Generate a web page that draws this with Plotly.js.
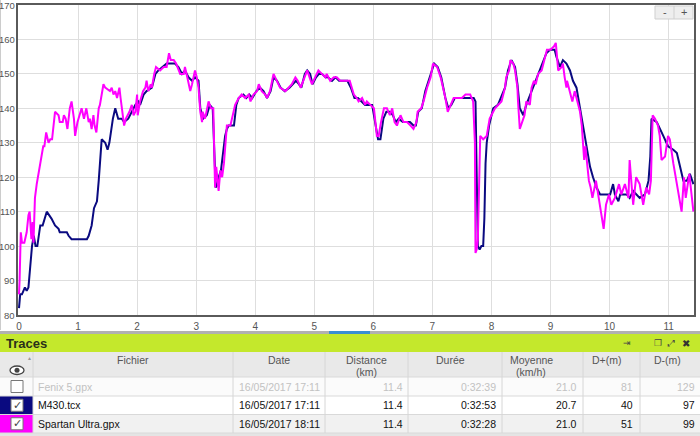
<!DOCTYPE html>
<html><head><meta charset="utf-8">
<script src="https://cdn.plot.ly/plotly-3.0.1.min.js"></script>
<style>html,body{margin:0;padding:0;background:#fff;overflow:hidden}#chart{width:700px;height:436px}</style>
</head><body><div id="chart"></div>
<script>
// ---- series: heart rate vs distance (km) ----
const m430Km = [0.00,0.01,0.02,0.05,0.10,0.13,0.16,0.19,0.22,0.25,0.28,0.31,0.36,0.40,0.47,0.55,0.61,0.67,0.69,0.81,0.84,0.89,1.15,1.18,1.20,1.23,1.27,1.32,1.35,1.37,1.40,1.46,1.50,1.53,1.59,1.63,1.68,1.74,1.78,1.85,1.91,1.97,2.02,2.05,2.11,2.16,2.25,2.31,2.36,2.50,2.64,2.70,2.76,2.81,2.87,2.93,2.98,3.04,3.07,3.12,3.18,3.23,3.28,3.31,3.33,3.36,3.38,3.42,3.45,3.49,3.52,3.55,3.64,3.68,3.72,3.80,3.85,3.90,3.95,4.02,4.08,4.14,4.20,4.26,4.31,4.37,4.43,4.50,4.58,4.64,4.69,4.74,4.78,4.84,4.88,4.93,4.97,5.03,5.08,5.13,5.19,5.23,5.30,5.36,5.42,5.50,5.56,5.62,5.68,5.74,5.80,5.86,5.92,5.98,6.04,6.08,6.12,6.17,6.22,6.28,6.33,6.38,6.43,6.50,6.56,6.62,6.68,6.72,6.76,6.82,6.88,6.94,6.99,7.03,7.09,7.15,7.22,7.27,7.32,7.38,7.45,7.52,7.58,7.65,7.70,7.73,7.75,7.77,7.80,7.83,7.86,7.88,7.90,7.92,7.96,8.03,8.11,8.23,8.28,8.34,8.40,8.44,8.48,8.54,8.59,8.68,8.73,8.82,8.93,8.99,9.07,9.10,9.16,9.21,9.27,9.33,9.38,9.44,9.50,9.55,9.61,9.67,9.72,9.78,9.84,10.01,10.06,10.09,10.15,10.18,10.29,10.34,10.40,10.51,10.60,10.66,10.69,10.71,10.80,10.85,10.91,10.99,11.08,11.14,11.19,11.25,11.31,11.36,11.42];
const m430Hr = [82,84,86,86,88,87,88,94,100,103,100,100,106,106,110,108,106,105,104,104,103,102,102,103,104,106,111,113,119,124,131,130,128,130,137,140,137,137,136,137,139,141,142,141,144,145,146,150,151,153,153,152,150,151,149,148,149,148,140,137,138,141,140,128,117,118,120,122,127,132,134,135,135,141,143,144,143,144,143,145,146,145,143,145,149,148,146,145,146,147,148,147,146,150,151,150,147,149,150,150,149,149,148,149,148,148,148,146,143,143,142,141,141,141,135,131,131,137,139,139,138,136,137,136,136,136,135,135,139,140,145,148,151,153,152,149,143,140,141,143,143,143,143,143,143,142,125,100,99,100,100,108,124,130,135,140,141,146,151,154,152,147,140,138,141,145,147,151,156,157,157,155,152,154,153,151,148,146,140,135,129,123,120,117,115,115,118,115,113,115,115,114,116,114,115,119,126,137,136,134,132,129,128,127,123,119,119,121,118];

const spartanKm = [0.00,0.01,0.03,0.05,0.09,0.13,0.16,0.18,0.21,0.23,0.245,0.27,0.30,0.34,0.37,0.41,0.43,0.46,0.50,0.53,0.56,0.61,0.67,0.69,0.74,0.76,0.79,0.82,0.86,0.89,0.93,0.95,0.99,1.06,1.10,1.14,1.18,1.20,1.23,1.26,1.28,1.31,1.35,1.37,1.43,1.46,1.54,1.57,1.60,1.63,1.66,1.70,1.72,1.76,1.78,1.81,1.87,1.91,1.94,1.97,2.00,2.01,2.05,2.10,2.14,2.16,2.19,2.23,2.25,2.29,2.32,2.39,2.45,2.50,2.54,2.57,2.62,2.66,2.73,2.79,2.81,2.85,2.90,2.93,2.98,3.01,3.04,3.07,3.10,3.11,3.15,3.21,3.25,3.29,3.32,3.34,3.36,3.38,3.41,3.44,3.47,3.50,3.52,3.58,3.63,3.66,3.72,3.77,3.83,3.89,3.92,3.97,4.03,4.06,4.11,4.17,4.20,4.25,4.31,4.37,4.42,4.51,4.56,4.62,4.68,4.72,4.77,4.83,4.88,4.96,5.02,5.07,5.13,5.19,5.21,5.27,5.33,5.38,5.44,5.50,5.55,5.60,5.67,5.72,5.75,5.81,5.86,5.89,5.95,6.01,6.06,6.09,6.13,6.18,6.23,6.28,6.32,6.36,6.40,6.46,6.51,6.57,6.63,6.68,6.73,6.75,6.81,6.85,6.91,6.97,7.01,7.08,7.14,7.22,7.26,7.31,7.36,7.45,7.50,7.56,7.64,7.69,7.72,7.73,7.75,7.77,7.79,7.81,7.86,7.92,7.97,8.06,8.17,8.23,8.25,8.30,8.32,8.37,8.40,8.44,8.45,8.47,8.48,8.54,8.56,8.59,8.65,8.68,8.72,8.75,8.79,8.85,8.90,8.94,9.00,9.06,9.09,9.11,9.13,9.19,9.21,9.24,9.27,9.28,9.33,9.37,9.41,9.47,9.50,9.53,9.55,9.57,9.59,9.62,9.65,9.68,9.71,9.77,9.81,9.86,9.90,9.94,9.99,10.03,10.09,10.16,10.20,10.26,10.32,10.34,10.40,10.45,10.51,10.57,10.62,10.67,10.70,10.73,10.77,10.82,10.85,10.88,10.94,10.99,11.02,11.08,11.14,11.22,11.26,11.29,11.35,11.42];
const spartanHr = [86,90,104,101,101,104,109,110,102,107,101,114,118,122,125,129,129,133,130,131,131,139,138,136,136,138,137,134,140,142,137,132,136,140,137,140,136,137,134,138,135,133,140,141,147,146,145,146,144,145,143,146,143,137,135,137,139,141,138,139,144,138,142,145,146,148,145,147,146,150,152,151,152,152,156,154,154,153,150,150,152,149,145,147,151,149,146,139,136,139,137,142,140,140,117,123,119,116,122,120,124,131,135,135,139,141,143,144,143,144,142,144,145,147,145,144,143,145,150,148,146,145,146,147,149,148,146,149,151,147,149,151,150,149,150,148,149,149,148,148,148,148,144,143,142,143,141,142,141,140,132,132,136,140,140,138,140,136,135,138,136,136,135,134,136,139,140,142,146,149,153,152,149,143,139,141,143,143,143,144,144,142,130,98,99,102,120,132,131,132,137,140,142,146,149,151,154,153,151,146,142,137,134,137,138,142,141,146,148,147,150,151,154,157,157,158,159,155,151,152,153,149,146,148,145,142,145,141,139,135,130,125,129,123,119,117,114,119,115,110,105,112,115,112,114,118,115,118,114,125,112,120,118,112,117,115,119,138,137,135,132,125,126,132,131,124,118,110,120,114,121,110];

const xTickVals = [0,1,2,3,4,5,6,7,8,9,10,11];
const yTickVals = [80,90,100,110,120,130,140,150,160,170];

// ---- table content ----
const panelTitle = 'Traces';
const headerTop = ['Fichier','Date','Distance','Durée','Moyenne','D+(m)','D-(m)'];
const headerBottom = ['','','(km)','','(km/h)','',''];
const fileNames = ['Fenix 5.gpx','M430.tcx','Spartan Ultra.gpx'];
const dates = ['16/05/2017 17:11','16/05/2017 17:11','16/05/2017 18:11'];
const distances = ['11.4','11.4','11.4'];
const durations = ['0:32:39','0:32:53','0:32:28'];
const speeds = ['21.0','20.7','21.0'];
const dPlus = ['81','40','51'];
const dMinus = ['129','97','99'];
const rowVisible = [false,true,true];

const NAVY = '#0a0a80', MAG = '#ff00ff';
const FONT = 'Liberation Sans, Arial, sans-serif';

// pixel -> paper helpers (plot area: x 18..694, y 5..315)
const L = 18, R = 6, T = 5, B = 121, W = 700, H = 436;
const PW = W - L - R, PH = H - T - B;
const px = p => (p - L) / PW;
const py = p => (T + PH - p) / PH;

const shapes = [];
const ann = [];
function rect(x0,y0,x1,y1,fill,line,lw){shapes.push({type:'rect',xref:'paper',yref:'paper',x0:px(x0),x1:px(x1),y0:py(y1),y1:py(y0),fillcolor:fill||'rgba(0,0,0,0)',line:{color:line||'rgba(0,0,0,0)',width:lw||0},layer:'above'});}
function line(x0,y0,x1,y1,color,w){shapes.push({type:'line',xref:'paper',yref:'paper',x0:px(x0),x1:px(x1),y0:py(y0),y1:py(y1),line:{color:color,width:w||1},layer:'above'});}
function txt(x,y,t,opts){opts=opts||{};ann.push({xref:'paper',yref:'paper',x:px(x),y:py(y),text:t,showarrow:false,xanchor:opts.xa||'center',yanchor:opts.ya||'middle',font:{family:opts.family||FONT,size:opts.size||11,color:opts.color||'#222'}});}

// y tick labels drawn as text at the axis' own tick values
yTickVals.forEach(v=>{
  ann.push({xref:'paper',yref:'y',x:px(16.5),y:v,text:String(v),showarrow:false,xanchor:'right',yanchor:'middle',font:{family:FONT,size:9.5,color:'#555'}});
});

// zoom buttons
rect(655,6,693,19,'#eeeeee','#cfcfcf',1);
line(674,6,674,19,'#d0d0d0',1);
txt(664.5,12.5,'-',{size:11,color:'#555'});
txt(683.5,12.5,'+',{size:11,color:'#555'});

// left thin border
line(0.5,0,0.5,330,'#cccccc',1);

// separator bar
rect(0,331,700,334,'#b1b1b1');
rect(329,331,370,334,'#3a8ed2');
// lime title bar
rect(0,334,700,352,'#c4e82c');
txt(4,343.5,'<b>'+panelTitle+'</b>',{xa:'left',size:13,color:'#2a2f1a'});
txt(627,343,'⇥',{size:9,color:'#444',family:'DejaVu Sans'});
txt(658,343,'❐',{size:9,color:'#444',family:'DejaVu Sans'});
txt(671,343,'⤢',{size:9,color:'#444',family:'DejaVu Sans'});
txt(686,343,'✖',{size:10,color:'#333',family:'DejaVu Sans'});

// header row
rect(0,352,700,377,'#e9e9e9');
const colEdges = [0,33,233,325,408,502,583,640,700];
const headerCx = [133,279,366,450,531,606,667];
headerTop.forEach((h,i)=>{
  txt(headerCx[i],359.5,h,{size:10.5,color:'#555'});
  if(headerBottom[i]) txt(headerCx[i],372,headerBottom[i],{size:10.5,color:'#555'});
});
// eye icon + sort mark
shapes.push({type:'circle',xref:'paper',yref:'paper',x0:px(10),x1:px(24),y0:py(374.5),y1:py(366),line:{color:'#444',width:1.3},fillcolor:'#fff',layer:'above'});
shapes.push({type:'circle',xref:'paper',yref:'paper',x0:px(14.5),x1:px(19.5),y0:py(372.7),y1:py(367.7),line:{color:'#444',width:0},fillcolor:'#444',layer:'above'});
txt(29,357,'▴',{size:6,color:'#999',family:'DejaVu Sans'});

// data rows
const rowTops = [377,396,414.5];
const rowBottoms = [396,414.5,433];
const rowFills = ['#fbfbfb','#ffffff','#f1f1f1'];
const traceCellColors = [null,NAVY,MAG];
for(let r=0;r<3;r++){
  const y0=rowTops[r], y1=rowBottoms[r], cy=(y0+y1)/2;
  rect(0,y0,700,y1,rowFills[r]);
  if(traceCellColors[r]) rect(0,y0,33,y1,traceCellColors[r]);
  rect(11,cy-6,23,cy+6,'#ffffff','#777',1);
  if(rowVisible[r]) txt(17,cy,'✓',{size:11,color:'#444',family:'DejaVu Sans'});
  const col = rowVisible[r] ? '#111' : '#c2c2c2';
  const fs = 10.5;
  txt(36,cy,fileNames[r],{xa:'left',size:fs,color:col});
  txt(322,cy,dates[r],{xa:'right',size:fs,color:col});
  txt(405,cy,distances[r],{xa:'right',size:fs,color:col});
  txt(498,cy,durations[r],{xa:'right',size:fs,color:col});
  txt(579,cy,speeds[r],{xa:'right',size:fs,color:col});
  txt(635,cy,dPlus[r],{xa:'right',size:fs,color:col});
  txt(697,cy,dMinus[r],{xa:'right',size:fs,color:col});
}
rect(0,433,700,436,'#e4e4e4');
[377,396,414.5,433].forEach(y=>line(0,y,700,y,'#d9d9d9',1));
colEdges.slice(1,-1).forEach(x=>line(x,352,x,433,'#d6d6d6',1));

const traces = [
  {x:m430Km,y:m430Hr,type:'scatter',mode:'lines',line:{color:NAVY,width:2},name:'M430.tcx',hoverinfo:'none'},
  {x:spartanKm,y:spartanHr,type:'scatter',mode:'lines',line:{color:MAG,width:2},name:'Spartan Ultra.gpx',hoverinfo:'none'}
];

const layout = {
  width:W,height:H,
  margin:{l:L,r:R,t:T,b:B,pad:0},
  paper_bgcolor:'#ffffff',plot_bgcolor:'#ffffff',
  showlegend:false,
  font:{family:FONT,size:10,color:'#555'},
  xaxis:{range:[-0.017,11.43],tickvals:xTickVals,ticktext:xTickVals.map(String),showgrid:true,gridcolor:'#dedede',gridwidth:1,zeroline:false,showline:true,linecolor:'#5a5a5a',linewidth:2,mirror:true,ticks:'',ticklabelstandoff:1,tickfont:{size:10,color:'#555'},fixedrange:true},
  yaxis:{range:[80,170],tickvals:yTickVals,showticklabels:false,showgrid:true,gridcolor:'#dedede',gridwidth:1,zeroline:false,showline:true,linecolor:'#5a5a5a',linewidth:2,mirror:true,ticks:'',fixedrange:true},
  shapes:shapes,
  annotations:ann
};
Plotly.newPlot('chart',traces,layout,{displayModeBar:false,staticPlot:true});
</script>
</body></html>
